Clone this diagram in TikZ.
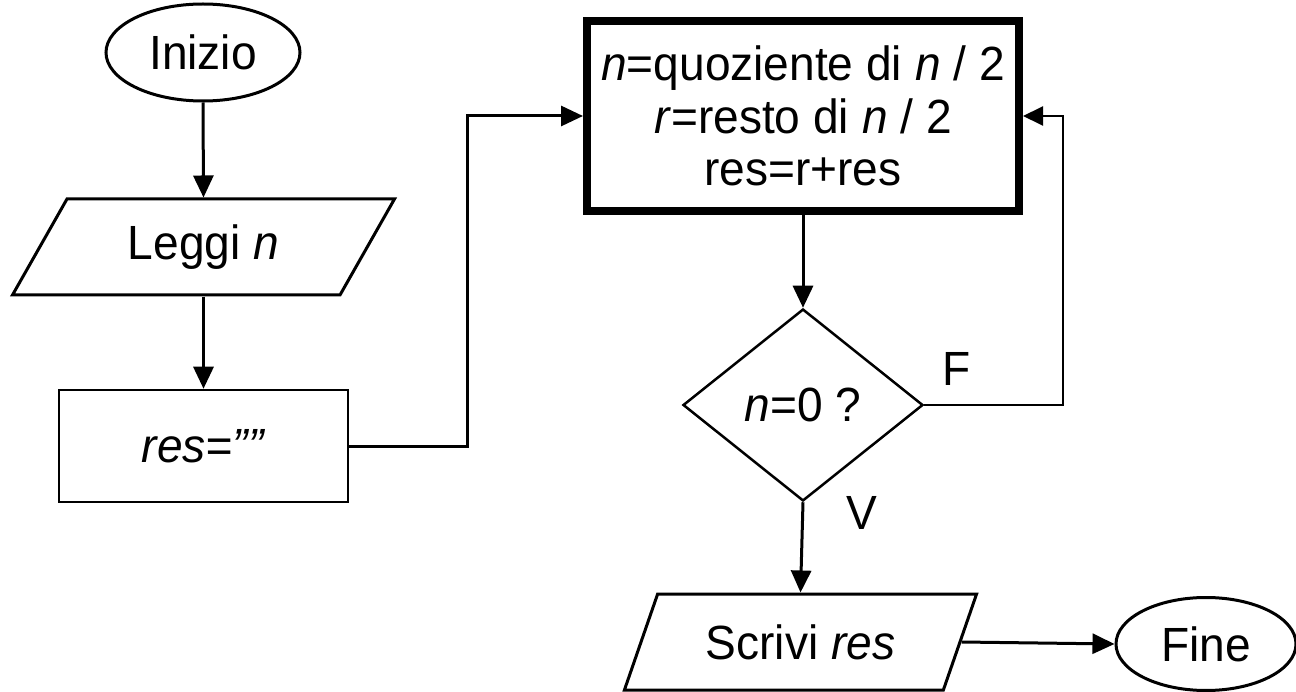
\documentclass[tikz,border=0pt]{standalone}
\usepackage{fontspec}
\setmainfont{Liberation Sans}[FakeStretch=0.96]
\usetikzlibrary{shapes.geometric,arrows.meta}

\begin{document}
\begin{tikzpicture}[x=1pt,y=-1pt,
  font=\fontsize{48pt}{52.5pt}\selectfont,
  base/.style={draw=black,line width=3pt,inner sep=0pt},
  terminal/.style={base,ellipse,minimum width=194pt,minimum height=97pt},
  io/.style={base,trapezium,trapezium stretches=true,minimum height=96pt},
  process/.style={base,rectangle,line width=2.5pt},
  decision/.style={base,diamond,line width=2.5pt,aspect=1.25,minimum width=240pt,minimum height=192pt},
  flow/.style={line width=3pt,-{Triangle[length=22pt,width=20pt]}},
  loopback/.style={line width=2pt,-{Triangle[length=20pt,width=19pt]}},
  lbl/.style={inner sep=0pt}
]
% canvas
\fill[white] (0,0) rectangle (1296,692);
\useasboundingbox (0,0) rectangle (1296,692);

% blocks of the flowchart
\node[terminal] (inizio) at (203,52.5) {Inizio};
\node[io,trapezium left angle=56,trapezium right angle=124,minimum width=383pt] (leggi) at (203.5,247) {Leggi \textit{n}};
\node[process,minimum width=289pt,minimum height=112pt] (init) at (203.5,446) {\textit{res=””}};
\node[process,line width=8pt,minimum width=432pt,minimum height=190pt,align=center] (calc) at (803,116)
  {\textit{n}=quoziente di \textit{n} / 2\\\textit{r}=resto di \textit{n} / 2\\res=r+res};
\node[decision] (cond) at (803,405) {\textit{n}=0 ?};
\node[io,trapezium left angle=58,trapezium right angle=122,minimum width=353pt] (scrivi) at (800.5,642) {Scrivi \textit{res}};
\node[terminal,minimum width=180pt,minimum height=93pt] (fine) at (1206,644) {Fine};

% branch labels
\node[lbl] (flab) at (957,369) {F};
\node[lbl] (vlab) at (862,513) {V};

% connectors
\draw[flow] (inizio.south) -- (leggi.north);
\draw[flow] (leggi.south) -- (init.north);
\draw[flow] (init.east) -- ++(118,0) |- (calc.west);
\draw[flow] (calc.south) -- (cond.north);
\draw[loopback] (cond.east) -- ++(139,0) |- (calc.east);
\draw[flow] (cond.south) -- (scrivi.north);
\draw[flow] (scrivi.east) -- (fine.west);
\end{tikzpicture}
\end{document}
